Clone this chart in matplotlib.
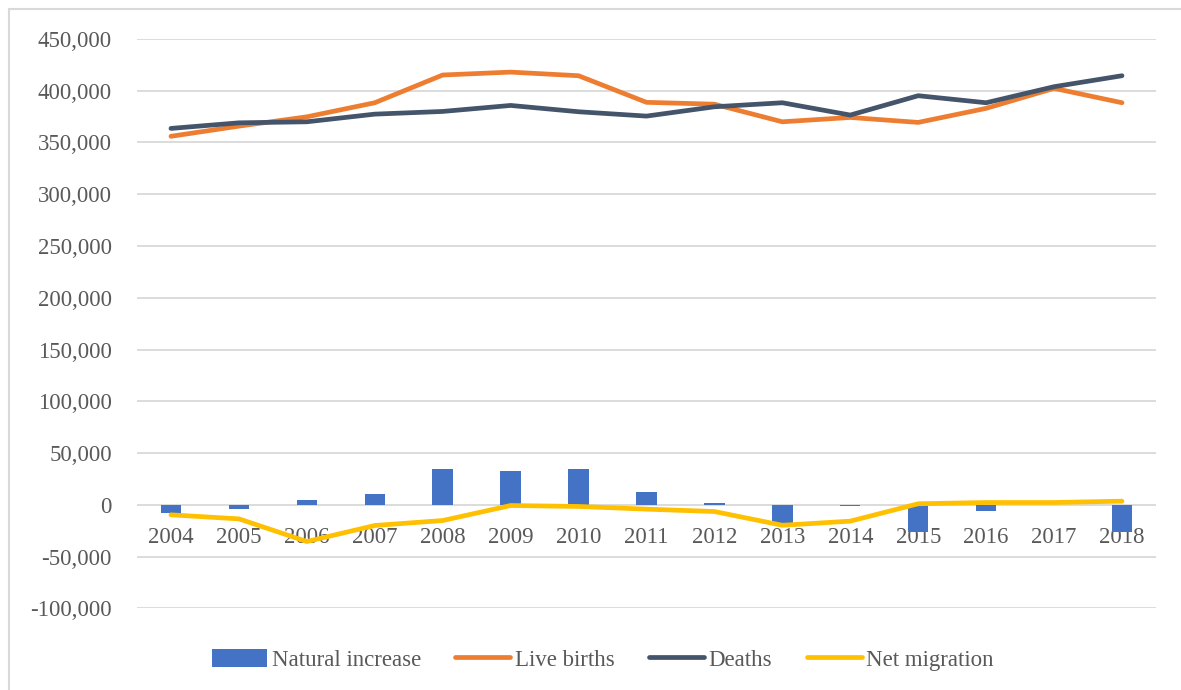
import numpy as np
import matplotlib
matplotlib.use('Agg')
import matplotlib.pyplot as plt
from matplotlib.ticker import FuncFormatter, MultipleLocator
from matplotlib.patches import Rectangle, Patch
from matplotlib.lines import Line2D

# data
years = ['2004', '2005', '2006', '2007', '2008', '2009', '2010', '2011',
         '2012', '2013', '2014', '2015', '2016', '2017', '2018']
natural_increase = [-7800, -4200, 4200, 10300, 34900, 32300, 34500, 12600,
                    1500, -17500, -1200, -26300, -6000, -500, -26300]
live_births = [356000, 365800, 374800, 388400, 415200, 418000, 414500, 388800,
               387000, 370000, 374200, 369400, 383000, 402300, 388400]
deaths = [363600, 369000, 370000, 377400, 380000, 385800, 379700, 375500,
          384500, 388400, 376500, 395200, 388400, 403900, 414500]
net_migration = [-9700, -13600, -35500, -20000, -15200, -700, -1600, -4200,
                 -6500, -19800, -15800, 1000, 2200, 2200, 3500]

BLUE = '#4472C4'
ORANGE = '#ED7D31'
DARK = '#44546A'
YELLOW = '#FFC000'
GRID = '#D9D9D9'
TEXT = '#595959'

plt.rcParams['font.family'] = ['Liberation Serif', 'DejaVu Serif']

fig = plt.figure(figsize=(11.81, 6.90), dpi=100)
ax = fig.add_axes([0.116, 0.1184, 0.8628, 0.8251])

x = np.arange(len(years))

ax.bar(x, natural_increase, width=0.3, color=BLUE, zorder=2)
lw = 3.4
ax.plot(x, live_births, color=ORANGE, lw=lw, solid_capstyle='round', solid_joinstyle='round', zorder=3)
ax.plot(x, deaths, color=DARK, lw=lw, solid_capstyle='round', solid_joinstyle='round', zorder=4)
ax.plot(x, net_migration, color=YELLOW, lw=lw, solid_capstyle='round', solid_joinstyle='round', zorder=5)

ax.set_xlim(-0.5, len(years) - 0.5)
ax.set_ylim(-100000, 450000)
ax.yaxis.set_major_locator(MultipleLocator(50000))
ax.yaxis.set_major_formatter(FuncFormatter(lambda v, p: f'{int(v):,}'))
ax.grid(axis='y', color=GRID, lw=1.3, zorder=0)
ax.set_axisbelow(True)

for s in ['top', 'right', 'left']:
    ax.spines[s].set_visible(False)
ax.spines['bottom'].set_position(('data', 0))
ax.spines['bottom'].set_visible(False)

ax.set_xticks(x)
ax.set_xticklabels(years)
ax.tick_params(axis='x', length=0, pad=16, labelsize=16.5, labelcolor=TEXT)
ax.tick_params(axis='y', length=0, pad=18, labelsize=16.5, labelcolor=TEXT)

# chart border
fig.patches.append(Rectangle((8.5 / 1181, -0.05), 1.1, 1 - 8.5 / 690 + 0.05,
                             transform=fig.transFigure, fill=False,
                             edgecolor=GRID, lw=1.5))

handles = [
    Patch(facecolor=BLUE, edgecolor='none'),
    Line2D([0], [0], color=ORANGE, lw=lw, solid_capstyle='round'),
    Line2D([0], [0], color=DARK, lw=lw, solid_capstyle='round'),
    Line2D([0], [0], color=YELLOW, lw=lw, solid_capstyle='round'),
]
labels = ['Natural increase', 'Live births', 'Deaths', 'Net migration']
fig.legend(handles, labels, loc='center', bbox_to_anchor=(0.5106, 0.0435), ncol=4,
           frameon=False, fontsize=16.5, labelcolor=TEXT, handlelength=2.4,
           handleheight=0.85, handletextpad=0.2, columnspacing=1.5)

fig.savefig('out.png', dpi=100)
